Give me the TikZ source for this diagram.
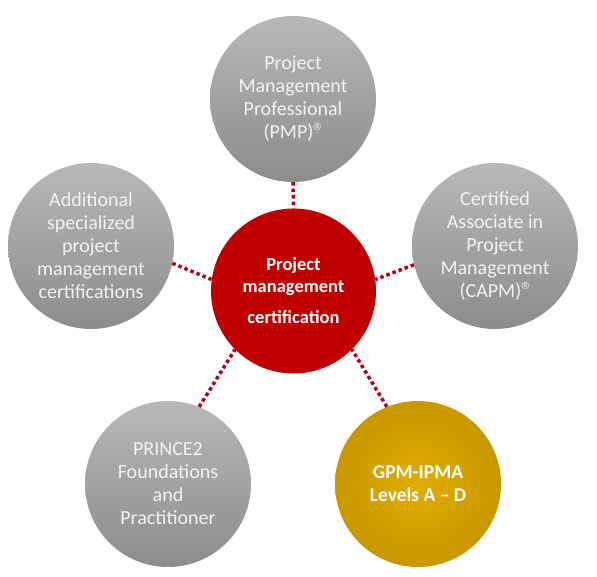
\documentclass[tikz,border=0pt]{standalone}
\usepackage{fontspec}
\setmainfont{Carlito}
\newfontfamily\symfont{DejaVu Sans}
\definecolor{pmred}{HTML}{C00000}
\definecolor{dotred}{HTML}{B00010}
\definecolor{txtlight}{HTML}{F2F2F2}
\newcommand{\regmark}{\kern-1pt\raisebox{0.42em}{\symfont\fontsize{10}{10}\selectfont ®}}
\begin{document}
\begin{tikzpicture}[x=1pt,y=-1pt,
  bubble/.style={circle,inner sep=0pt,minimum size=166pt,align=center,text=txtlight,
    font=\fontsize{20}{23}\selectfont},
  graybubble/.style={bubble,top color=black!28,bottom color=black!45,shading angle=0},
  goldbubble/.style={bubble,inner color=HTML-gold-in,outer color=HTML-gold-out,text=white,
    font=\bfseries\fontsize{19.5}{23}\selectfont},
  redbubble/.style={bubble,fill=pmred,text=white,minimum size=165pt,
    font=\bfseries\fontsize{18.5}{22}\selectfont},
  link/.style={draw=dotred,line width=3.5pt,dash pattern=on 3.5pt off 3pt}]
\definecolor{HTML-gold-in}{HTML}{E2AC00}
\definecolor{HTML-gold-out}{HTML}{C89800}
\useasboundingbox (0,0) rectangle (597,576);
\node[redbubble] (c) at (293.5,291) {Project\\management\\[9pt]certification};
\node[graybubble] (t) at (293,99) {Project\\Management\\Professional\\(PMP)\regmark};
\node[graybubble] (l) at (91,246) {Additional\\specialized\\project\\management\\certifications};
\node[graybubble] (r) at (495,246) {Certified\\Associate in\\Project\\Management\\(CAPM)\regmark};
\node[graybubble] (bl) at (168,484) {PRINCE2\\Foundations\\and\\Practitioner};
\node[goldbubble] (br) at (418,484) {GPM-IPMA\\Levels A – D};
\draw[link] (t.-90) -- (c.90);
\draw[link] (l.-12) -- (c.172);
\draw[link] (r.193) -- (c.8);
\draw[link] (bl.68) -- (c.225);
\draw[link] (br.112) -- (c.-45);
\end{tikzpicture}
\end{document}
